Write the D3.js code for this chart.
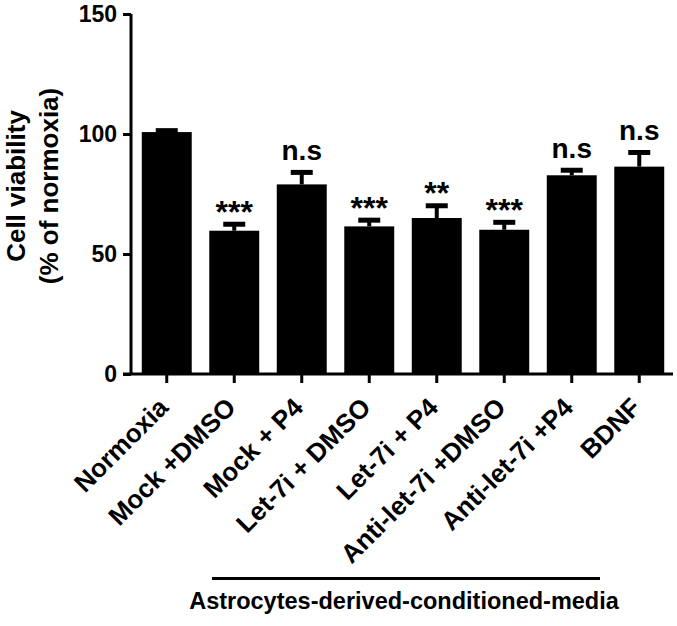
<!DOCTYPE html>
<html>
<head>
<meta charset="utf-8">
<script src="https://cdn.jsdelivr.net/npm/d3@7"></script>
<style>
  html, body { margin: 0; padding: 0; background: #fff; }
  svg { display: block; }
  text { font-family: "Liberation Sans", Arial, sans-serif; font-weight: bold; fill: #000; }
</style>
</head>
<body>
<svg id="chart" width="677" height="626"></svg>
<script>
// ---- data ----
const categories = ["Normoxia", "Mock +DMSO", "Mock + P4", "Let-7i + DMSO", "Let-7i + P4", "Anti-let-7i +DMSO", "Anti-let-7i +P4", "BDNF"];
const means = [100.8, 59.7, 79.0, 61.5, 65.0, 60.1, 82.8, 86.4];
const errors = [0.6, 2.7, 5.0, 2.6, 5.1, 3.1, 2.1, 5.9];
const significance = ["", "***", "n.s", "***", "**", "***", "n.s", "n.s"];
const yTicks = [0, 50, 100, 150];
const yTitle = ["Cell viability", "(% of normoxia)"];
const groupLabel = "Astrocytes-derived-conditioned-media";

// ---- layout ----
const svg = d3.select("#chart");
const axisX = 131;
const y0 = 374;

const y = d3.scaleLinear().domain([0, 150]).range([y0, 14]);
const x = d3.scaleBand().domain(categories).range([133, 673]).paddingInner(0.26).paddingOuter(0.13);

// bars
svg.selectAll("rect.bar").data(categories).enter().append("rect")
  .attr("class", "bar")
  .attr("x", d => x(d))
  .attr("width", x.bandwidth())
  .attr("y", (d, i) => y(means[i]))
  .attr("height", (d, i) => y0 - y(means[i]))
  .attr("fill", "#000");

// error bars (upper only)
const capW = 22;
categories.forEach((c, i) => {
  const cx = x(c) + x.bandwidth() / 2;
  const top = y(means[i] + errors[i]);
  svg.append("line").attr("x1", cx).attr("x2", cx).attr("y1", y(means[i])).attr("y2", top)
    .attr("stroke", "#000").attr("stroke-width", 4);
  svg.append("line").attr("x1", cx - capW / 2).attr("x2", cx + capW / 2).attr("y1", top).attr("y2", top)
    .attr("stroke", "#000").attr("stroke-width", 5);
});

// significance labels
categories.forEach((c, i) => {
  const s = significance[i];
  if (!s) return;
  const cx = x(c) + x.bandwidth() / 2;
  const top = y(means[i] + errors[i]) - 2.5;
  const isStar = s.indexOf("*") >= 0;
  svg.append("text")
    .attr("x", cx)
    .attr("y", isStar ? top + 1 : top - 10)
    .attr("text-anchor", "middle")
    .style("font-size", isStar ? "32px" : "28px")
    .text(s);
});

// y axis
const yAxis = d3.axisLeft(y).tickValues(yTicks).tickSize(8).tickPadding(6);
const gy = svg.append("g").attr("transform", `translate(${axisX},0)`).call(yAxis);
gy.select(".domain").attr("d", `M0,${y(150)}V${y0}`).attr("stroke", "#000").attr("stroke-width", 3);
gy.selectAll(".tick line").attr("stroke", "#000").attr("stroke-width", 3);
gy.selectAll(".tick text").style("font-size", "23px").style("font-family", "'Liberation Sans', Arial, sans-serif").style("font-weight", "bold").attr("fill", "#000");

// x axis
const xAxis = d3.axisBottom(x).tickSize(9).tickFormat("");
const gx = svg.append("g").attr("transform", `translate(0,${y0})`).call(xAxis);
gx.select(".domain").attr("d", `M${axisX - 8},0H673`).attr("stroke", "#000").attr("stroke-width", 3);
gx.selectAll(".tick line").attr("stroke", "#000").attr("stroke-width", 3);

// x labels rotated
svg.selectAll("text.xlab").data(categories).enter().append("text")
  .attr("class", "xlab")
  .attr("text-anchor", "end")
  .attr("transform", d => `translate(${x(d) + x.bandwidth() / 2 + 3},${y0 + 35}) rotate(-45)`)
  .style("font-size", "26px")
  .text(d => d);

// y title
const yt = svg.append("text")
  .attr("transform", `translate(25,186) rotate(-90)`)
  .attr("text-anchor", "middle")
  .style("font-size", "26px");
yt.append("tspan").attr("x", 0).attr("y", 0).text(yTitle[0]);
yt.append("tspan").attr("x", 0).attr("y", 33).text(yTitle[1]);

// group bracket
svg.append("line")
  .attr("x1", 212).attr("x2", 600)
  .attr("y1", 578.5).attr("y2", 578.5)
  .attr("stroke", "#000").attr("stroke-width", 3);
svg.append("text")
  .attr("x", 404).attr("y", 609)
  .attr("text-anchor", "middle")
  .style("font-size", "23.5px")
  .text(groupLabel);
</script>
</body>
</html>
